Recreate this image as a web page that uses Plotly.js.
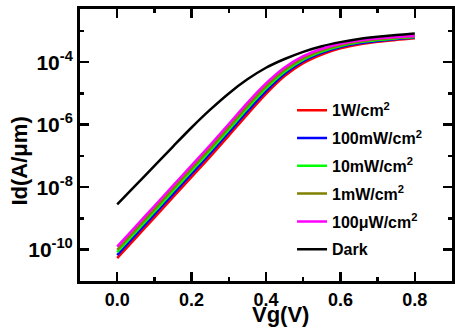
<!DOCTYPE html>
<html>
<head>
<meta charset="utf-8">
<script src="https://cdn.plot.ly/plotly-3.0.1.min.js"></script>
<style>html,body{margin:0;padding:0;background:#fff;}#chart{width:455px;height:333px;}</style>
</head>
<body>
<div id="chart"></div>
<script>
const vg = [0, 0.05, 0.1, 0.15, 0.2, 0.25, 0.3, 0.35, 0.4, 0.45, 0.5, 0.55, 0.6, 0.65, 0.7, 0.75, 0.8];

const id1W = [5.37e-11, 2.40e-10, 1.07e-9, 4.79e-9, 2.14e-8, 9.55e-8, 4.47e-7, 2.14e-6, 9.70e-6, 3.57e-5, 9.29e-5, 1.76e-4, 2.77e-4, 3.68e-4, 4.46e-4, 5.16e-4, 5.83e-4];
const id100mW = [6.76e-11, 3.02e-10, 1.35e-9, 6.03e-9, 2.69e-8, 1.20e-7, 5.62e-7, 2.69e-6, 1.19e-5, 4.24e-5, 1.07e-4, 1.97e-4, 3.03e-4, 3.99e-4, 4.78e-4, 5.46e-4, 6.11e-4];
const id10mW = [8.32e-11, 3.72e-10, 1.66e-9, 7.41e-9, 3.31e-8, 1.48e-7, 6.92e-7, 3.31e-6, 1.44e-5, 4.95e-5, 1.21e-4, 2.19e-4, 3.30e-4, 4.29e-4, 5.08e-4, 5.75e-4, 6.37e-4];
const id1mW = [1.00e-10, 4.47e-10, 2.00e-9, 8.91e-9, 3.98e-8, 1.78e-7, 8.32e-7, 3.98e-6, 1.70e-5, 5.69e-5, 1.35e-4, 2.40e-4, 3.55e-4, 4.57e-4, 5.37e-4, 6.03e-4, 6.61e-4];
const id100uW = [1.26e-10, 5.62e-10, 2.51e-9, 1.12e-8, 5.01e-8, 2.24e-7, 1.05e-6, 5.01e-6, 2.09e-5, 6.76e-5, 1.55e-4, 2.69e-4, 3.89e-4, 4.95e-4, 5.75e-4, 6.38e-4, 6.92e-4];
const idDark = [2.82e-9, 1.17e-8, 4.79e-8, 2.00e-7, 8.13e-7, 3.02e-6, 1.00e-5, 2.82e-5, 6.61e-5, 1.26e-4, 2.14e-4, 3.24e-4, 4.37e-4, 5.50e-4, 6.46e-4, 7.41e-4, 8.32e-4];

const seriesNames = ["1W/cm<sup>2</sup>", "100mW/cm<sup>2</sup>", "10mW/cm<sup>2</sup>", "1mW/cm<sup>2</sup>", "100\u03bcW/cm<sup>2</sup>", "Dark"];
const seriesData = [id1W, id100mW, id10mW, id1mW, id100uW, idDark];
const seriesColors = ["#ff0000", "#0000ff", "#00ff00", "#808000", "#ff00ff", "#000000"];

const yTickVals = [1e-10, 1e-8, 1e-6, 1e-4];
const yTickText = ["10<sup>-10</sup>", "10<sup>-8</sup>", "10<sup>-6</sup>", "10<sup>-4</sup>"];
const yMinorVals = [1e-11, 1e-9, 1e-7, 1e-5, 1e-3];
const xTickVals = [0, 0.2, 0.4, 0.6, 0.8];
const xTickText = ["0.0", "0.2", "0.4", "0.6", "0.8"];
const xMinorVals = [-0.1, 0.1, 0.3, 0.5, 0.7, 0.9];

const traces = seriesData.map((d, i) => ({
  x: vg, y: d, type: 'scatter', mode: 'lines', name: seriesNames[i], legendgroup: 'g' + i,
  line: {color: seriesColors[i], width: 2.5, shape: 'spline', smoothing: 1.0}
}));

const fontFam = 'Liberation Sans, Arial, sans-serif';
const layout = {
  width: 455, height: 333,
  margin: {l: 80, r: 3, t: 9, b: 52},
  paper_bgcolor: '#fff', plot_bgcolor: '#fff',
  showlegend: true,
  legend: {x: 0.57, y: 0.69, xanchor: 'left', yanchor: 'top', bgcolor: 'rgba(0,0,0,0)',
    font: {family: fontFam, size: 16, color: '#000', weight: 'bold'}, tracegroupgap: 4},
  xaxis: {
    range: [-0.1, 0.9], showgrid: false, zeroline: false,
    showline: true, linecolor: '#000', linewidth: 3, mirror: 'ticks',
    ticks: 'inside', ticklen: 9, tickwidth: 2.5, tickcolor: '#000',
    tickmode: 'array', tickvals: xTickVals, ticktext: xTickText,
    tickfont: {family: fontFam, size: 18, color: '#000', weight: 'bold'},
    minor: {tickmode: 'array', tickvals: xMinorVals, ticks: 'inside', ticklen: 4, tickwidth: 2.5, tickcolor: '#000', showgrid: false}
  },
  yaxis: {
    type: 'log', range: [-11, -2.3], showgrid: false, zeroline: false,
    showline: true, linecolor: '#000', linewidth: 3, mirror: 'ticks',
    ticks: 'inside', ticklen: 9, tickwidth: 2.5, tickcolor: '#000',
    tickmode: 'array', tickvals: yTickVals, ticktext: yTickText,
    tickfont: {family: fontFam, size: 21, color: '#000', weight: 'bold'},
    minor: {tickmode: 'array', tickvals: yMinorVals, ticks: 'inside', ticklen: 4, tickwidth: 2.5, tickcolor: '#000', showgrid: false}
  },
  annotations: [
    {text: 'Vg(V)', xref: 'paper', yref: 'paper', x: 0.54, y: -0.122, xanchor: 'center', yanchor: 'middle', showarrow: false,
     font: {family: fontFam, size: 22, color: '#000', weight: 'bold'}},
    {text: 'Id(A/\u03bcm)', xref: 'paper', yref: 'paper', x: -0.162, y: 0.442, xanchor: 'center', yanchor: 'middle', showarrow: false, textangle: -90,
     font: {family: fontFam, size: 22, color: '#000', weight: 'bold'}}
  ]
};

Plotly.newPlot('chart', traces, layout, {displayModeBar: false, staticPlot: true});
</script>
</body>
</html>
